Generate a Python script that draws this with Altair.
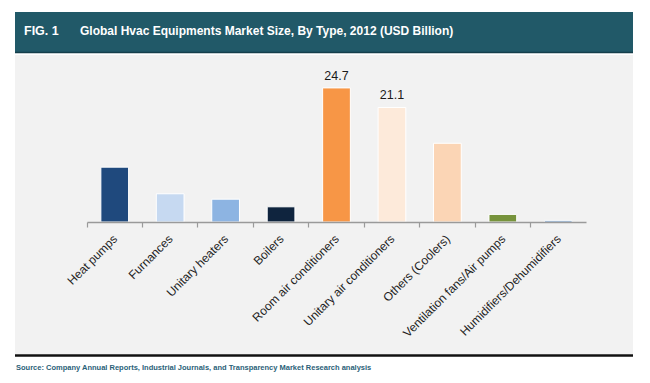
import altair as alt
import pandas as pd

categories = ["Heat pumps", "Furnances", "Unitary heaters", "Boilers",
              "Room air conditioners", "Unitary air conditioners",
              "Others (Coolers)", "Ventilation fans/Air pumps",
              "Humidifiers/Dehumidifiers"]
values = [10.1, 5.2, 4.2, 2.8, 24.7, 21.1, 14.5, 1.4, 0.3]
colors = ["#1F497D", "#C6D9F1", "#8DB4E2", "#0F243E", "#F79646",
          "#FDEADA", "#FBD5B5", "#77933C", "#4F81BD"]
shown_labels = ["", "", "", "", "24.7", "21.1", "", "", ""]

fig_label = "FIG. 1"
title_text = "Global Hvac Equipments Market Size, By Type, 2012 (USD Billion)"
source_text = "Source: Company Annual Reports, Industrial Journals, and Transparency Market Research analysis"

df = pd.DataFrame({"cat": categories, "val": values, "color": colors, "lab": shown_labels})

W, H = 499, 152
FONT = "Liberation Sans, Arial, sans-serif"

x_enc = alt.X("cat:N", sort=categories,
              scale=alt.Scale(paddingInner=0, paddingOuter=0),
              axis=alt.Axis(title=None, labelAngle=-45, bandPosition=0, zindex=1,
                            labelFontSize=12, labelFont=FONT, labelColor="#1E1E1E",
                            labelPadding=6, labelOffset=-3,
                            domainColor="#9A9A9A", domainWidth=1.5,
                            tickColor="#9A9A9A", tickSize=5, tickWidth=1.2,
                            labelOverlap=False, labelLimit=300))
y_enc = alt.Y("val:Q", scale=alt.Scale(domain=[0, 28], nice=False), axis=None)

one = pd.DataFrame({"k": [0]})

gray = alt.Chart(one).mark_rect(color="#F2F2F2").encode(
    x=alt.value(-72), x2=alt.value(546), y=alt.value(-15), y2=alt.value(284))
header = alt.Chart(one).mark_rect(color="#215968").encode(
    x=alt.value(-72), x2=alt.value(546), y=alt.value(-58), y2=alt.value(-17))
header_line = alt.Chart(one).mark_rule(color="#153F4B", strokeWidth=1.5).encode(
    x=alt.value(-72), x2=alt.value(546), y=alt.value(-17.5))
bottom_line = alt.Chart(one).mark_rule(color="#111111", strokeWidth=2.5).encode(
    x=alt.value(-72), x2=alt.value(546), y=alt.value(285.5))

fig_t = alt.Chart(pd.DataFrame({"t": [fig_label]})).mark_text(
    font=FONT, fontSize=12.5, fontWeight="bold", color="white", align="left", baseline="middle"
).encode(x=alt.value(-63), y=alt.value(-39.5), text="t:N")
title_t = alt.Chart(pd.DataFrame({"t": [title_text]})).mark_text(
    font=FONT, fontSize=12, fontWeight="bold", color="white", align="left", baseline="middle"
).encode(x=alt.value(-7), y=alt.value(-39.5), text="t:N")
source_t = alt.Chart(pd.DataFrame({"t": [source_text]})).mark_text(
    font=FONT, fontSize=7.5, fontWeight="bold", color="#2A5F78", align="left", baseline="middle"
).encode(x=alt.value(-71), y=alt.value(298), text="t:N")

bars = alt.Chart(df).mark_bar(width=alt.RelativeBandSize(0.5), stroke="white", strokeWidth=1).encode(
    x=x_enc, y=y_enc, color=alt.Color("color:N", scale=None))
labels = alt.Chart(df).mark_text(font=FONT, fontSize=12.5, color="#1A1A1A",
                                 baseline="alphabetic", dy=-8).encode(
    x=alt.X("cat:N", sort=categories), y=alt.Y("val:Q"), text="lab:N")

chart = alt.layer(gray, header, header_line, bottom_line, fig_t, title_t, source_t, bars, labels).properties(
    width=W, height=H,
    autosize=alt.AutoSizeParams(type="none"),
    padding={"left": 79, "top": 62, "right": 55, "bottom": 151},
).configure_view(stroke=None).configure(background="white")

chart.save("out.html", embed_options={"renderer": "svg", "actions": False})
